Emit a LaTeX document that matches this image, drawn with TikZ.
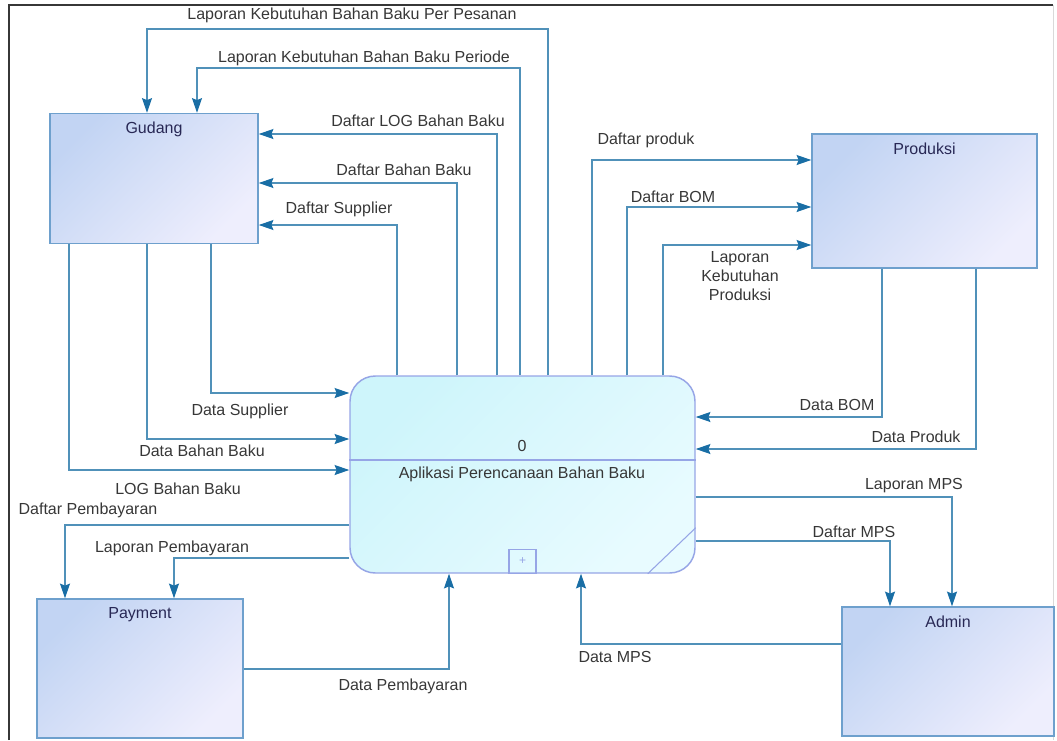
\documentclass[tikz,border=0pt]{standalone}
\usepackage{fontspec}
\setmainfont{Liberation Sans}
\usetikzlibrary{arrows.meta,calc}
\definecolor{lineC}{RGB}{80,145,185}
\definecolor{arrowC}{RGB}{25,110,165}
\definecolor{entBorder}{RGB}{110,160,205}
\definecolor{entA}{RGB}{194,212,243}
\definecolor{entB}{RGB}{238,238,253}
\definecolor{procA}{RGB}{206,245,251}
\definecolor{procB}{RGB}{232,251,255}
\definecolor{procBorder}{RGB}{150,165,230}
\definecolor{txtC}{RGB}{55,55,55}
\definecolor{entTxt}{RGB}{40,40,85}
\definecolor{frameC}{RGB}{55,55,55}
\begin{document}
\begin{tikzpicture}[x=0.75pt,y=-0.75pt,
  ent/.style={draw=entBorder,line width=1.1pt,top color=entA,bottom color=entB,shading angle=45,inner sep=0},
  proc/.style={draw=procBorder,line width=1.1pt,top color=procA,bottom color=procB,shading angle=45,inner sep=0,rounded corners=19pt},
  flow/.style={draw=lineC,line width=0.9pt,-{Stealth[length=11pt,width=7.5pt,inset=1.5pt,color=arrowC]}},
  lbl/.style={font=\fontsize{12}{14}\selectfont,text=txtC,inner sep=0},
  entlbl/.style={font=\fontsize{12}{14}\selectfont,text=entTxt,inner sep=0,anchor=north}]
\useasboundingbox (0,0) rectangle (1057,740);
% frame
\coordinate (fTL) at (9,5); \coordinate (fBL) at (9,740); \coordinate (fTR) at (1053,5); \coordinate (fBR) at (1053,740);
\draw[frameC,line width=2pt] (fBL) -- (fTL) -- (fTR);
\draw[black!15,line width=0.6pt] (fTR) -- (fBR);
% entities
\node[ent,minimum width=208*0.75pt,minimum height=130*0.75pt] (gud) at (154,178.5) {};
\node[entlbl] (gudL) at ([yshift=-7pt]gud.north) {Gudang};
\node[ent,minimum width=225*0.75pt,minimum height=134*0.75pt] (prod) at (924.5,201) {};
\node[entlbl] (prodL) at ([yshift=-7pt]prod.north) {Produksi};
\node[ent,minimum width=206*0.75pt,minimum height=139*0.75pt] (pay) at (140,668.5) {};
\node[entlbl] (payL) at ([yshift=-7pt]pay.north) {Payment};
\node[ent,minimum width=212*0.75pt,minimum height=129*0.75pt] (adm) at (948,671.5) {};
\node[entlbl] (admL) at ([yshift=-7pt]adm.north) {Admin};
% process
\node[proc,minimum width=345*0.75pt,minimum height=197*0.75pt] (proc) at (522.5,474.5) {};
\coordinate (dv) at (522,460);
\draw[procBorder,line width=0.8pt] (proc.west |- dv) -- (proc.east |- dv);
\node[lbl] (pnum) at (522,446) {0};
\node[lbl] (pname) at (522,474) {Aplikasi Perencanaan Bahan Baku};
\node[draw=procBorder,line width=0.8pt,minimum width=27*0.75pt,minimum height=24*0.75pt,inner sep=0,anchor=south,text=procBorder,font=\small] (plus) at (proc.south) {+};
\coordinate (dg1) at ($(proc.south east)+(-48,0)$);
\coordinate (dg2) at ($(proc.south east)+(0,-46)$);
\draw[procBorder,line width=0.8pt] (dg1) -- (dg2);
% Gudang flows
\coordinate (a1) at (548,29); \coordinate (a2) at (147,29);
\draw[flow] (proc.north -| a1) -- (a1) -- (a2) -- (gud.north -| a2);
\coordinate (b1) at (520,68); \coordinate (b2) at (197,68);
\draw[flow] (proc.north -| b1) -- (b1) -- (b2) -- (gud.north -| b2);
\coordinate (c1) at (497,134);
\draw[flow] (proc.north -| c1) -- (c1) -- (gud.east |- c1);
\coordinate (d1) at (457,183);
\draw[flow] (proc.north -| d1) -- (d1) -- (gud.east |- d1);
\coordinate (e1) at (397,225);
\draw[flow] (proc.north -| e1) -- (e1) -- (gud.east |- e1);
\coordinate (f1) at (211,393);
\draw[flow] (gud.south -| f1) -- (f1) -- (proc.west |- f1);
\coordinate (g1) at (147,439);
\draw[flow] (gud.south -| g1) -- (g1) -- (proc.west |- g1);
\coordinate (h1) at (69,470);
\draw[flow] (gud.south -| h1) -- (h1) -- (proc.west |- h1);
% Payment flows
\coordinate (i1) at (65,525);
\draw[flow] (proc.west |- i1) -- (i1) -- (pay.north -| i1);
\coordinate (j1) at (174,558);
\draw[flow] (proc.west |- j1) -- (j1) -- (pay.north -| j1);
\coordinate (k1) at (449,669);
\draw[flow] (pay.east |- k1) -- (k1) -- (proc.south -| k1);
% Produksi flows
\coordinate (l1) at (592,160);
\draw[flow] (proc.north -| l1) -- (l1) -- (prod.west |- l1);
\coordinate (m1) at (627,207);
\draw[flow] (proc.north -| m1) -- (m1) -- (prod.west |- m1);
\coordinate (n1) at (663,245);
\draw[flow] (proc.north -| n1) -- (n1) -- (prod.west |- n1);
\coordinate (o1) at (882,417);
\draw[flow] (prod.south -| o1) -- (o1) -- (proc.east |- o1);
\coordinate (p1) at (976,449);
\draw[flow] (prod.south -| p1) -- (p1) -- (proc.east |- p1);
% Admin flows
\coordinate (q1) at (952,497);
\draw[flow] (proc.east |- q1) -- (q1) -- (adm.north -| q1);
\coordinate (r1) at (890,541);
\draw[flow] (proc.east |- r1) -- (r1) -- (adm.north -| r1);
\coordinate (s1) at (581,644);
\draw[flow] (adm.west |- s1) -- (s1) -- (proc.south -| s1);
% labels
\node[lbl] (La) at (352,15) {Laporan Kebutuhan Bahan Baku Per Pesanan};
\node[lbl] (Lb) at (364,58) {Laporan Kebutuhan Bahan Baku Periode};
\node[lbl] (Lc) at (418,121) {Daftar LOG Bahan Baku};
\node[lbl] (Ld) at (404,170) {Daftar Bahan Baku};
\node[lbl] (Le) at (339,209) {Daftar Supplier};
\node[lbl] (Lf) at (240,411) {Data Supplier};
\node[lbl] (Lg) at (202,451) {Data Bahan Baku};
\node[lbl] (Lh) at (178,489) {LOG Bahan Baku};
\node[lbl] (Li) at (88,510) {Daftar Pembayaran};
\node[lbl] (Lj) at (172,548) {Laporan Pembayaran};
\node[lbl] (Lk) at (403,686) {Data Pembayaran};
\node[lbl] (Ll) at (646,140) {Daftar produk};
\node[lbl] (Lm) at (673,197) {Daftar BOM};
\node[lbl,align=center,font=\fontsize{12}{14}\selectfont] (Ln) at (740,276) {Laporan\\Kebutuhan\\Produksi};
\node[lbl] (Lo) at (837,405) {Data BOM};
\node[lbl] (Lp) at (916,437) {Data Produk};
\node[lbl] (Lq) at (914,486) {Laporan MPS};
\node[lbl] (Lr) at (854,532) {Daftar MPS};
\node[lbl] (Ls) at (615,657) {Data MPS};
\end{tikzpicture}
\end{document}
